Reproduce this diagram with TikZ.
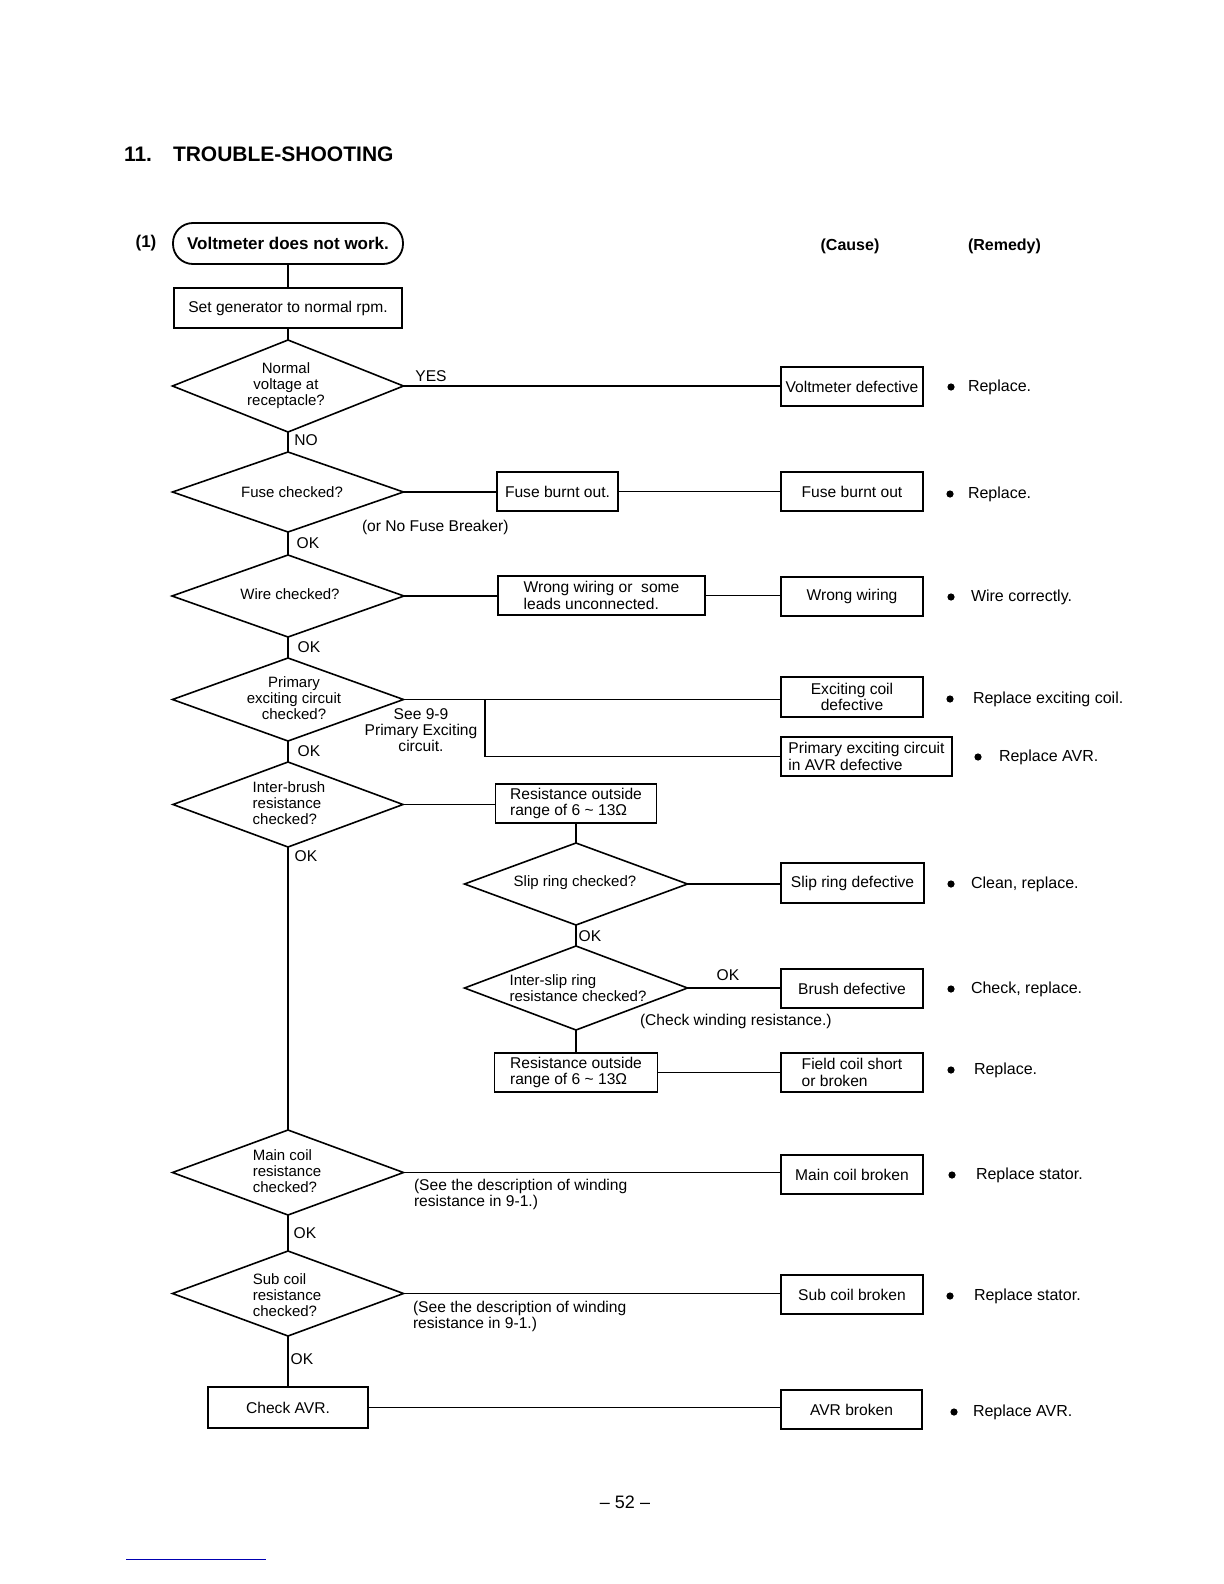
\documentclass[tikz,border=0pt]{standalone}
\usepackage{fontspec}
\setmainfont{Liberation Sans}
\usetikzlibrary{shapes.geometric}
\begin{document}
\begin{tikzpicture}[x=0.5pt,y=-0.5pt,
  every node/.style={outer sep=0pt},
  ln/.style={line width=0.8pt},
  boxs/.style={draw, line width=0.9pt, inner sep=1pt, align=center, font=\fontsize{7.8}{8.2}\selectfont},
  dia/.style={draw, diamond, inner sep=0pt, line width=0.8pt},
  dtxt/.style={inner sep=0pt, align=center, font=\fontsize{7.5}{8}\selectfont},
  dtxtl/.style={inner sep=0pt, align=left, font=\fontsize{7.5}{8}\selectfont},
  lab/.style={inner sep=0pt, font=\fontsize{7.8}{8}\selectfont},
  rem/.style={inner sep=0pt, anchor=west, font=\fontsize{8}{9}\selectfont},
  dot/.style={circle, fill, inner sep=0pt, minimum size=3.6pt},
]
\useasboundingbox (0,0) rectangle (1224,1584);

% title
\node[anchor=west, inner sep=0pt, font=\bfseries\fontsize{10.5}{12}\selectfont] (t1) at (124,154) {11.};
\node[anchor=west, inner sep=0pt, font=\bfseries\fontsize{10.5}{12}\selectfont] (t2) at (173,154) {TROUBLE-SHOOTING};
\node[inner sep=0pt, font=\bfseries\fontsize{8.5}{9}\selectfont] (n1) at (146,243) {(1)};
\node[inner sep=0pt, font=\bfseries\fontsize{8}{9}\selectfont] (cause) at (850,246) {(Cause)};
\node[anchor=west, inner sep=0pt, font=\bfseries\fontsize{8}{9}\selectfont] (remedy) at (968,246) {(Remedy)};

% main column
\node[draw, line width=0.9pt, rounded corners=10pt, minimum width=115pt, minimum height=20.5pt, font=\bfseries\fontsize{8.5}{9}\selectfont] (start) at (288,243.5) {Voltmeter does not work.};
\node[boxs, minimum width=114pt, minimum height=20pt] (rpm) at (288,308) {Set generator to normal rpm.};

\node[dia, minimum width=115.5pt, minimum height=46pt] (d1) at (288,386) {};
\node[dtxt] (d1t) at (286,386) {Normal\\voltage at\\receptacle?};
\node[dia, minimum width=115.5pt, minimum height=40pt] (d2) at (288,492) {};
\node[dtxt] (d2t) at (292,492) {Fuse checked?};
\node[dia, minimum width=116pt, minimum height=41pt] (d3) at (288,596) {};
\node[dtxt] (d3t) at (290,594) {Wire checked?};
\node[dia, minimum width=115.5pt, minimum height=41.5pt] (d4) at (288,699.5) {};
\node[dtxt] (d4t) at (294,698) {Primary\\exciting circuit\\checked?};
\node[dia, minimum width=115pt, minimum height=42.5pt] (d5) at (288,804.5) {};
\node[dtxtl] (d5t) at (289,803) {Inter-brush\\resistance\\checked?};
\node[dia, minimum width=111.5pt, minimum height=41pt] (d6) at (576,884) {};
\node[dtxt] (d6t) at (575,883) {Slip ring checked?};
\node[dia, minimum width=111.5pt, minimum height=42pt] (d7) at (576,988) {};
\node[dtxtl] (d7t) at (578,988) {Inter-slip ring\\resistance checked?};
\node[dia, minimum width=115.5pt, minimum height=42.5pt] (d8) at (288,1172.5) {};
\node[dtxtl] (d8t) at (287,1171) {Main coil\\resistance\\checked?};
\node[dia, minimum width=115.5pt, minimum height=42.5pt] (d9) at (288,1293.5) {};
\node[dtxtl] (d9t) at (287,1295) {Sub coil\\resistance\\checked?};
\node[boxs, minimum width=80pt, minimum height=20.5pt] (avr) at (288,1407.5) {Check AVR.};

% middle boxes
\node[boxs, minimum width=60.5pt, minimum height=19.5pt] (b2) at (557.5,491.5) {Fuse burnt out.};
\node[boxs, minimum width=103.5pt, minimum height=19.5pt, align=left] (b3) at (601.5,595.5) {Wrong wiring or\ \ some\\leads unconnected.};
\node[boxs, minimum width=80.5pt, minimum height=19.5pt, align=left] (b5) at (576,803.5) {Resistance outside\\range of 6 \textasciitilde{} 13Ω};
\node[boxs, minimum width=81.5pt, minimum height=19.5pt, align=left] (b7) at (576,1072.5) {Resistance outside\\range of 6 \textasciitilde{} 13Ω};

% cause boxes
\node[boxs, minimum width=71pt, minimum height=19.5pt, inner sep=0.5pt] (c1) at (852,386.5) {Voltmeter defective};
\node[boxs, minimum width=71pt, minimum height=19.5pt] (c2) at (852,491.5) {Fuse burnt out};
\node[boxs, minimum width=71pt, minimum height=19.5pt] (c3) at (852,596.5) {Wrong wiring};
\node[boxs, minimum width=71pt, minimum height=20pt] (c4a) at (852,697) {Exciting coil\\defective};
\node[boxs, minimum width=85.5pt, minimum height=19.5pt, align=left, inner sep=0.5pt] (c4b) at (866.5,756.5) {Primary exciting circuit\\in AVR defective};
\node[boxs, minimum width=71.5pt, minimum height=20pt] (c6) at (852.5,883) {Slip ring defective};
\node[boxs, minimum width=71pt, minimum height=19.5pt] (c7) at (852,988.5) {Brush defective};
\node[boxs, minimum width=71pt, minimum height=19.5pt, align=left] (c7b) at (852,1072.5) {Field coil short\\or broken};
\node[boxs, minimum width=71pt, minimum height=19.5pt] (c8) at (852,1174.5) {Main coil broken};
\node[boxs, minimum width=71pt, minimum height=19.5pt] (c9) at (852,1294.5) {Sub coil broken};
\node[boxs, minimum width=70.5pt, minimum height=19.5pt] (c10) at (851.5,1409.5) {AVR broken};

% connectors
\draw[ln] (start.south) -- (rpm.north);
\draw[ln] (rpm.south) -- (d1.north);
\draw[ln] (d1.east) -- (d1.east -| c1.west);
\draw[ln] (d1.south) -- (d2.north);
\draw[ln] (d2.east) -- (d2.east -| b2.west);
\draw[ln] (b2.east) -- (b2.east -| c2.west);
\draw[ln] (d2.south) -- (d3.north);
\draw[ln] (d3.east) -- (d3.east -| b3.west);
\draw[ln] (b3.east) -- (b3.east -| c3.west);
\draw[ln] (d3.south) -- (d4.north);
\path (d4.east) ++(81.5,0) coordinate (j4);
\draw[ln] (d4.east) -- (d4.east -| c4a.west);
\draw[ln] (j4) |- (c4b.west);
\draw[ln] (d4.south) -- (d5.north);
\draw[ln] (d5.east) -- (d5.east -| b5.west);
\draw[ln] (b5.south) -- (d6.north);
\draw[ln] (d6.east) -- (d6.east -| c6.west);
\draw[ln] (d6.south) -- (d7.north);
\draw[ln] (d7.east) -- (d7.east -| c7.west);
\draw[ln] (d7.south) -- (b7.north);
\draw[ln] (b7.east) -- (b7.east -| c7b.west);
\draw[ln] (d5.south) -- (d8.north);
\draw[ln] (d8.east) -- (d8.east -| c8.west);
\draw[ln] (d8.south) -- (d9.north);
\draw[ln] (d9.east) -- (d9.east -| c9.west);
\draw[ln] (d9.south) -- (avr.north);
\draw[ln] (avr.east) -- (avr.east -| c10.west);

% branch labels
\node[lab] (yes) at (431,376) {YES};
\node[lab] (no) at (306,440) {NO};
\node[lab] (ok2) at (308,543) {OK};
\node[lab] (ok3) at (309,647) {OK};
\node[lab] (ok4) at (309,751) {OK};
\node[lab] (ok5) at (306,856) {OK};
\node[lab] (ok6) at (590,936) {OK};
\node[lab] (ok7) at (728,975) {OK};
\node[lab] (ok8) at (305,1233) {OK};
\node[lab] (ok9) at (302,1359) {OK};

% notes
\node[lab, anchor=west] (nfuse) at (362,527) {(or No Fuse Breaker)};
\node[lab, align=center] (n99) at (421,730) {See 9-9\\Primary Exciting\\circuit.};
\node[lab, anchor=west] (nwind) at (640,1021) {(Check winding resistance.)};
\node[lab, anchor=west, align=left] (n91a) at (414,1194) {(See the description of winding\\resistance in 9-1.)};
\node[lab, anchor=west, align=left] (n91b) at (413,1316) {(See the description of winding\\resistance in 9-1.)};

% remedies
\node[dot] (p1) at (951,387) {};   \node[rem] (r1) at (968,387) {Replace.};
\node[dot] (p2) at (950,494) {};   \node[rem] (r2) at (968,494) {Replace.};
\node[dot] (p3) at (951,597) {};   \node[rem] (r3) at (971,597) {Wire correctly.};
\node[dot] (p4) at (950,699) {};   \node[rem] (r4) at (973,699) {Replace exciting coil.};
\node[dot] (p5) at (978,757) {};   \node[rem] (r5) at (999,757) {Replace AVR.};
\node[dot] (p6) at (951,884) {};   \node[rem] (r6) at (971,884) {Clean, replace.};
\node[dot] (p7) at (951,989) {};   \node[rem] (r7) at (971,989) {Check, replace.};
\node[dot] (p8) at (951,1070) {};  \node[rem] (r8) at (974,1070) {Replace.};
\node[dot] (p9) at (952,1175) {};  \node[rem] (r9) at (976,1175) {Replace stator.};
\node[dot] (p10) at (950,1296) {}; \node[rem] (r10) at (974,1296) {Replace stator.};
\node[dot] (p11) at (954,1412) {}; \node[rem] (r11) at (973,1412) {Replace AVR.};

% page number
\node[inner sep=0pt, font=\fontsize{9}{10}\selectfont] (pg) at (625,1502) {-- 52 --};
\draw[blue!70!black, line width=0.5pt] (126,1559) -- (266,1559);
\end{tikzpicture}
\end{document}
